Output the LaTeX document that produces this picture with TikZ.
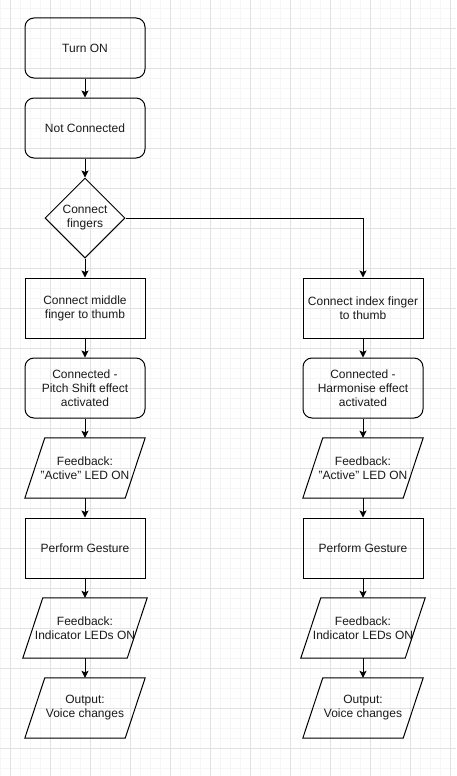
\documentclass[tikz,border=0pt]{standalone}
\usepackage{fontspec}
\setmainfont{Liberation Sans}
\usetikzlibrary{arrows.meta,shapes.geometric}
\definecolor{gridminor}{HTML}{F6F6F6}
\definecolor{gridmajor}{HTML}{E2E2E2}
\definecolor{ink}{HTML}{1A1A1A}
\begin{document}
\begin{tikzpicture}[x=1pt,y=-1pt,
  base/.style={minimum width=120pt, minimum height=60pt, inner sep=2pt,
    align=center, font=\fontsize{12}{14}\selectfont, text=ink},
  proc/.style={base, draw=black, line width=1pt},
  state/.style={proc, rounded corners=9pt},
  io/.style={base, minimum width=100pt},
  decision/.style={diamond, draw=black, line width=1pt, minimum width=80pt,
    minimum height=80pt, inner sep=0pt, aspect=1, align=center,
    font=\fontsize{12}{14}\selectfont, text=ink},
  flow/.style={-{Stealth[length=7pt,width=7pt,inset=1.5pt]}, line width=1pt},
  ioedge/.style={draw=black, line width=1pt, line join=miter}
]
\useasboundingbox (0,0) rectangle (456,776);
\fill[white] (0,0) rectangle (456,776);

% background grid
\foreach \x in {0,10,...,450} \draw[gridminor, line width=0.6pt] (\x,0) -- (\x,776);
\foreach \y in {8,18,...,768} \draw[gridminor, line width=0.6pt] (0,\y) -- (456,\y);
\foreach \x in {10,50,...,450} \draw[gridmajor, line width=0.8pt] (\x,0) -- (\x,776);
\foreach \y in {28,68,...,748} \draw[gridmajor, line width=0.8pt] (0,\y) -- (456,\y);

% main column
\node[state] (turnon) at (85,48) {Turn ON};
\node[state] (notconn) at (85,128) {Not Connected};
\node[decision] (dec) at (85,218) {Connect\\fingers};
\node[proc] (ma) at (85,308) {Connect middle\\finger to thumb};
\node[state] (ca) at (85,388) {Connected -\\Pitch Shift effect\\activated};
\node[io] (fa) at (85,468) {Feedback:\\"Active" LED ON};
\node[proc] (pa) at (85,548) {Perform Gesture};
\node[io] (ga) at (85,628) {Feedback:\\Indicator LEDs ON};
\node[io] (oa) at (85,708) {Output:\\Voice changes};

% second column
\node[proc] (ia) at (363,308) {Connect index finger\\to thumb};
\node[state] (cb) at (363,388) {Connected -\\Harmonise effect\\activated};
\node[io] (fb) at (363,468) {Feedback:\\"Active" LED ON};
\node[proc] (pb) at (363,548) {Perform Gesture};
\node[io] (gb) at (363,628) {Feedback:\\Indicator LEDs ON};
\node[io] (ob) at (363,708) {Output:\\Voice changes};

% parallelogram outlines for the input/output steps
\foreach \n in {fa,ga,oa,fb,gb,ob}
  \draw[ioedge] ([xshift=-10pt]\n.south west) -- ([xshift=10pt]\n.north west)
    -- ([xshift=10pt]\n.north east) -- ([xshift=-10pt]\n.south east) -- cycle;

% connectors
\draw[flow] (turnon) -- (notconn);
\draw[flow] (notconn) -- (dec);
\draw[flow] (dec) -- (ma);
\draw[flow] (dec.east) -| (ia.north);
\draw[flow] (ma) -- (ca);
\draw[flow] (ca) -- (fa);
\draw[flow] (fa) -- (pa);
\draw[flow] (pa) -- (ga);
\draw[flow] (ga) -- (oa);
\draw[flow] (ia) -- (cb);
\draw[flow] (cb) -- (fb);
\draw[flow] (fb) -- (pb);
\draw[flow] (pb) -- (gb);
\draw[flow] (gb) -- (ob);
\end{tikzpicture}
\end{document}
